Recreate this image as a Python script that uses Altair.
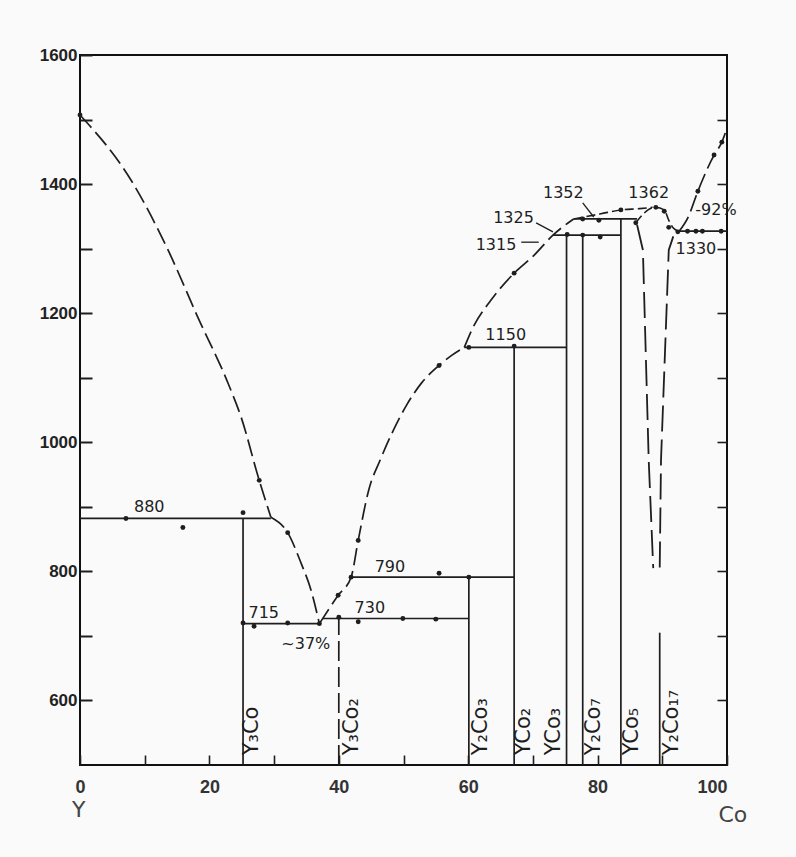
import altair as alt
import pandas as pd

# ---------------- axis values ----------------
x_ticks = list(range(0, 101, 10))
y_ticks_left = list(range(600, 1601, 100))
y_ticks_right = list(range(600, 1501, 100))

# ---------------- curves (x = at.% Co, T = degC) ----------------
liq_left_hi_x = [0, 7.9, 13.6, 18.2, 22.9, 24.9, 27.7, 29.5]
liq_left_hi_T = [1507, 1406, 1298, 1194, 1091, 1039, 941, 884]
liq_left_lo_x = [29.5, 32.1, 34.2, 35.7, 37.0]
liq_left_lo_T = [884, 860, 812, 771, 719]
liq_right_a_x = [37.0, 39.9, 41.9, 43.0, 44.6, 46.5, 48.5, 50.5, 52.8, 55.5, 57.5, 59.4]
liq_right_a_T = [719, 763, 791, 848, 925, 975, 1020, 1058, 1092, 1119, 1135, 1147]
liq_right_b_x = [59.4, 60.7, 63.5, 67.1, 70.2, 73.1, 76.3]
liq_right_b_T = [1147, 1177, 1220, 1262, 1290, 1321, 1346]
liq_co_x = [92.6, 94.0, 95.5, 98.0, 99.2, 100]
liq_co_T = [1327, 1349, 1389, 1445, 1465, 1487]
liq_top_x = [76.3, 77.9, 80.5, 83.6, 86.5, 88.5]
liq_top_T = [1346, 1349, 1354, 1360, 1362, 1364]
dome_x = [85.9, 87.2, 87.8, 89.0, 90.3, 91.0, 91.7, 92.6]
dome_T = [1340, 1355, 1360, 1364, 1360, 1344, 1332, 1327]
solvus_l_x = [86.1, 87.0, 87.9, 88.6]
solvus_l_T = [1337, 1298, 972, 805]
solvus_r_x = [91.7, 91.0, 89.8, 89.6]
solvus_r_T = [1319, 1298, 972, 805]

# ---------------- invariant (horizontal) lines ----------------
iso_T = [882, 719, 727, 791, 1147, 1321, 1346, 1327]
iso_x1 = [0, 25.2, 37.5, 41.9, 59.4, 73.1, 76.3, 92.6]
iso_x2 = [29.5, 37.0, 60.1, 67.1, 75.2, 83.6, 86.1, 100]

# ---------------- compounds (vertical lines) ----------------
comp_names = ["Y₃Co", "Y₃Co₂", "Y₂Co₃", "YCo₂", "YCo₃", "Y₂Co₇", "YCo₅", "Y₂Co₁₇"]
comp_x = [25.2, 40.0, 60.1, 67.1, 75.2, 77.7, 83.6, 89.6]
comp_top = [882, 727, 791, 1147, 1321, 1321, 1346, 705]
comp_dashed = [False, True, False, False, False, False, False, False]
comp_label_x = [24.9, 40.3, 60.3, 66.9, 71.6, 77.7, 83.6, 89.8]
comp_label_T = [515] * 8

# ---------------- experimental points ----------------
dot_x = [0, 7.1, 15.9, 25.2, 27.7, 32.1, 25.2, 26.9, 32.1, 37.0, 40.0, 43.0, 49.9, 55.0,
         39.9, 41.9, 43.0, 55.5, 60.1, 55.5, 60.1, 67.1, 67.1, 75.3, 77.7, 80.4,
         77.7, 80.2, 83.6, 85.9, 89.0, 90.3, 91.0, 92.4, 93.9, 95.2, 96.2, 99.1,
         95.5, 98.0, 99.2]
dot_T = [1507, 882, 868, 891, 941, 860, 720, 715, 720, 719, 729, 722, 727, 726,
         763, 791, 848, 797, 791, 1119, 1147, 1149, 1262, 1322, 1321, 1318,
         1346, 1344, 1360, 1340, 1364, 1358, 1333, 1326, 1327, 1327, 1327, 1327,
         1389, 1445, 1465]

# ---------------- annotations ----------------
ann_text = ["880", "715", "~37%", "730", "790", "1150", "1325", "1315", "1352", "1362", "1330", "-92%"]
ann_x = [10.7, 28.4, 34.9, 44.8, 47.9, 65.8, 67.0, 64.3, 74.7, 87.9, 95.2, 98.3]
ann_T = [899, 736, 688, 744, 806, 1166, 1347, 1305, 1386, 1386, 1299, 1360]

lead_x1 = [70.5, 68.2, 77.7]
lead_T1 = [1340, 1310, 1371]
lead_x2 = [73.1, 70.9, 79.4]
lead_T2 = [1326, 1310, 1349]

end_text = ["Y", "Co"]
end_x = [-0.2, 100.9]
end_T = [431, 422]


def path_df(pairs):
    rows = []
    for name, xs, ts in pairs:
        for i, (a, b) in enumerate(zip(xs, ts)):
            rows.append({"path": name, "i": i, "x": a, "T": b})
    return pd.DataFrame(rows)


liq_df = path_df([
    ("ll_hi", liq_left_hi_x, liq_left_hi_T),
    ("ll_lo", liq_left_lo_x, liq_left_lo_T),
    ("lr_a", liq_right_a_x, liq_right_a_T),
    ("lr_b", liq_right_b_x, liq_right_b_T),
    ("co", liq_co_x, liq_co_T),
])
top_df = path_df([("top", liq_top_x, liq_top_T), ("dome", dome_x, dome_T)])
solv_df = path_df([("sl", solvus_l_x, solvus_l_T), ("sr", solvus_r_x, solvus_r_T)])

iso_df = pd.DataFrame({"x": iso_x1, "x2": iso_x2, "T": iso_T})
comp_df = pd.DataFrame({"x": comp_x, "T": [500] * len(comp_x), "T2": comp_top, "dashed": comp_dashed})
lab_df = pd.DataFrame({"x": comp_label_x, "T": comp_label_T, "name": comp_names})
dot_df = pd.DataFrame({"x": dot_x, "T": dot_T})
ann_df = pd.DataFrame({"x": ann_x, "T": ann_T, "text": ann_text})
lead_df = pd.DataFrame({"x": lead_x1, "x2": lead_x2, "T": lead_T1, "T2": lead_T2})
end_df = pd.DataFrame({"x": end_x, "T": end_T, "text": end_text})

INK = "#1e1e1e"
xs = alt.Scale(domain=[0, 100], nice=False, zero=False)
ys = alt.Scale(domain=[500, 1600], nice=False, zero=False)

x_axis = alt.Axis(
    values=x_ticks, format="d", labelExpr="datum.value % 20 == 0 ? datum.label : ''",
    tickSize=10, offset=-10, domain=False, grid=False, title=None,
    labelPadding=13, labelFont="Liberation Sans", labelFontSize=18,
    labelFontWeight="bold", labelColor="#333", tickColor=INK, tickWidth=1.6,
    labelFlush=False,
    labelAlign={"condition": {"test": "datum.value == 100", "value": "right"}, "value": "center"},
)
y_axis_left = alt.Axis(
    values=y_ticks_left, format="d", labelExpr="datum.value % 200 == 0 ? datum.label : ''",
    tickSize=12, offset=-12, domain=False, grid=False, title=None,
    labelPadding=3, labelFont="Liberation Sans", labelFontSize=17,
    labelFontWeight="bold", labelColor="#222", tickColor=INK, tickWidth=2,
)
y_axis_right = alt.Axis(
    values=y_ticks_right, labels=False, orient="right",
    tickSize=10, offset=-10, domain=False, grid=False, title=None,
    tickColor=INK, tickWidth=1.6,
)

X = alt.X("x:Q", scale=xs, axis=x_axis)
YL = alt.Y("T:Q", scale=ys, axis=y_axis_left)
YN = alt.Y("T:Q", scale=ys, axis=None)
YR = alt.Y("T:Q", scale=ys, axis=y_axis_right)

iso = alt.Chart(iso_df).mark_rule(color=INK, strokeWidth=1.7).encode(x=X, x2="x2:Q", y=YL)

comp_solid = alt.Chart(comp_df).transform_filter("!datum.dashed").mark_rule(
    color=INK, strokeWidth=1.7).encode(x=X, y=YN, y2="T2:Q")
comp_dash = alt.Chart(comp_df).transform_filter("datum.dashed").mark_rule(
    color=INK, strokeWidth=1.7, strokeDash=[20, 6]).encode(x=X, y=YN, y2="T2:Q")

liq = alt.Chart(liq_df).mark_line(color=INK, strokeWidth=1.7, strokeDash=[17, 6],
                                  interpolate="monotone").encode(
    x=X, y=YN, detail="path:N", order="i:Q")
top = alt.Chart(top_df).mark_line(color=INK, strokeWidth=1.6, strokeDash=[9, 4],
                                  interpolate="monotone").encode(
    x=X, y=YN, detail="path:N", order="i:Q")
solv = alt.Chart(solv_df).mark_line(color=INK, strokeWidth=1.8, strokeDash=[26, 8]).encode(
    x=X, y=YN, detail="path:N", order="i:Q")

leads = alt.Chart(lead_df).mark_rule(color=INK, strokeWidth=1.3).encode(
    x=X, x2="x2:Q", y=YN, y2="T2:Q")

dots = alt.Chart(dot_df).mark_circle(color=INK, size=24, opacity=1).encode(x=X, y=YR)

ann = alt.Chart(ann_df).mark_text(font="DejaVu Sans", fontSize=16, color=INK,
                                  baseline="middle", align="center").encode(
    x=X, y=YN, text="text:N")

labs = alt.Chart(lab_df).mark_text(font="DejaVu Sans", fontSize=21, color=INK,
                                   angle=270, align="left", baseline="top").encode(
    x=X, y=YN, text="name:N")

ends = alt.Chart(end_df).mark_text(font="DejaVu Sans", fontSize=22, color="#444",
                                   baseline="middle", align="center").encode(
    x=X, y=YN, text="text:N")

chart = alt.layer(
    iso, comp_solid, comp_dash, liq, top, solv, leads, dots, ann, labs, ends
).resolve_axis(y="independent").properties(
    width=647, height=710,
    padding={"left": 80, "top": 55, "right": 69, "bottom": 92},
    autosize=alt.AutoSizeParams(type="none"),
    background="#fafafa",
).configure_view(stroke="#111", strokeWidth=2)

chart.save("out.html", embed_options={"renderer": "svg", "actions": False})
